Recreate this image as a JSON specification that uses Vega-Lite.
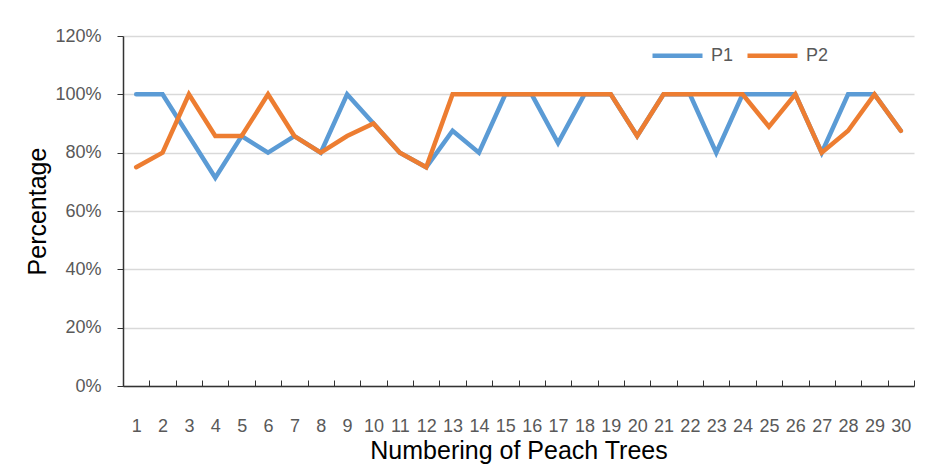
{
  "$schema": "https://vega.github.io/schema/vega-lite/v6.json",
  "autosize": "none",
  "width": 791,
  "height": 350,
  "padding": {"left": 123, "top": 36, "right": 13, "bottom": 79},
  "background": "white",
  "config": {
    "font": "Liberation Sans",
    "view": {"stroke": null}
  },
  "data": {
    "values": [
      {"tree": 1, "series": "P1", "value": 1.0},
      {"tree": 2, "series": "P1", "value": 1.0},
      {"tree": 3, "series": "P1", "value": 0.857},
      {"tree": 4, "series": "P1", "value": 0.714},
      {"tree": 5, "series": "P1", "value": 0.857},
      {"tree": 6, "series": "P1", "value": 0.8},
      {"tree": 7, "series": "P1", "value": 0.857},
      {"tree": 8, "series": "P1", "value": 0.8},
      {"tree": 9, "series": "P1", "value": 1.0},
      {"tree": 10, "series": "P1", "value": 0.9},
      {"tree": 11, "series": "P1", "value": 0.8},
      {"tree": 12, "series": "P1", "value": 0.75},
      {"tree": 13, "series": "P1", "value": 0.875},
      {"tree": 14, "series": "P1", "value": 0.8},
      {"tree": 15, "series": "P1", "value": 1.0},
      {"tree": 16, "series": "P1", "value": 1.0},
      {"tree": 17, "series": "P1", "value": 0.833},
      {"tree": 18, "series": "P1", "value": 1.0},
      {"tree": 19, "series": "P1", "value": 1.0},
      {"tree": 20, "series": "P1", "value": 0.857},
      {"tree": 21, "series": "P1", "value": 1.0},
      {"tree": 22, "series": "P1", "value": 1.0},
      {"tree": 23, "series": "P1", "value": 0.8},
      {"tree": 24, "series": "P1", "value": 1.0},
      {"tree": 25, "series": "P1", "value": 1.0},
      {"tree": 26, "series": "P1", "value": 1.0},
      {"tree": 27, "series": "P1", "value": 0.8},
      {"tree": 28, "series": "P1", "value": 1.0},
      {"tree": 29, "series": "P1", "value": 1.0},
      {"tree": 30, "series": "P1", "value": 0.875},
      {"tree": 1, "series": "P2", "value": 0.75},
      {"tree": 2, "series": "P2", "value": 0.8},
      {"tree": 3, "series": "P2", "value": 1.0},
      {"tree": 4, "series": "P2", "value": 0.857},
      {"tree": 5, "series": "P2", "value": 0.857},
      {"tree": 6, "series": "P2", "value": 1.0},
      {"tree": 7, "series": "P2", "value": 0.857},
      {"tree": 8, "series": "P2", "value": 0.8},
      {"tree": 9, "series": "P2", "value": 0.857},
      {"tree": 10, "series": "P2", "value": 0.9},
      {"tree": 11, "series": "P2", "value": 0.8},
      {"tree": 12, "series": "P2", "value": 0.75},
      {"tree": 13, "series": "P2", "value": 1.0},
      {"tree": 14, "series": "P2", "value": 1.0},
      {"tree": 15, "series": "P2", "value": 1.0},
      {"tree": 16, "series": "P2", "value": 1.0},
      {"tree": 17, "series": "P2", "value": 1.0},
      {"tree": 18, "series": "P2", "value": 1.0},
      {"tree": 19, "series": "P2", "value": 1.0},
      {"tree": 20, "series": "P2", "value": 0.857},
      {"tree": 21, "series": "P2", "value": 1.0},
      {"tree": 22, "series": "P2", "value": 1.0},
      {"tree": 23, "series": "P2", "value": 1.0},
      {"tree": 24, "series": "P2", "value": 1.0},
      {"tree": 25, "series": "P2", "value": 0.889},
      {"tree": 26, "series": "P2", "value": 1.0},
      {"tree": 27, "series": "P2", "value": 0.8},
      {"tree": 28, "series": "P2", "value": 0.875},
      {"tree": 29, "series": "P2", "value": 1.0},
      {"tree": 30, "series": "P2", "value": 0.875}
    ]
  },
  "mark": {"type": "line", "strokeWidth": 4.5, "strokeJoin": "miter", "strokeCap": "round"},
  "encoding": {
    "x": {
      "field": "tree",
      "type": "ordinal",
      "bandPosition": 0.5,
      "scale": {"type": "band", "paddingInner": 0, "paddingOuter": 0},
      "axis": {
        "title": "Numbering of Peach Trees",
        "titleFontSize": 25,
        "titleFontWeight": "normal",
        "titleColor": "black",
        "titlePadding": 3,
        "labelAngle": 0,
        "labelFontSize": 18,
        "labelColor": "#595959",
        "labelPadding": 37,
        "tickBand": "extent",
        "tickSize": -6,
        "tickColor": "#333333",
        "domainColor": "#333333",
        "domainWidth": 1.5,
        "grid": false
      }
    },
    "y": {
      "field": "value",
      "type": "quantitative",
      "scale": {"domain": [0, 1.2], "nice": false},
      "axis": {
        "title": "Percentage",
        "titleFontSize": 25,
        "titleFontWeight": "normal",
        "titleColor": "black",
        "titlePadding": 4,
        "format": ".0%",
        "values": [0, 0.2, 0.4, 0.6, 0.8, 1.0, 1.2],
        "labelFontSize": 18,
        "labelColor": "#595959",
        "labelPadding": 16,
        "tickSize": 6,
        "tickColor": "#333333",
        "domainColor": "#333333",
        "domainWidth": 1.5,
        "gridColor": "#d9d9d9",
        "gridWidth": 1.5
      }
    },
    "color": {
      "field": "series",
      "type": "nominal",
      "scale": {"domain": ["P1", "P2"], "range": ["#5B9BD5", "#ED7D31"]},
      "legend": {
        "title": null,
        "orient": "none",
        "legendX": 527,
        "legendY": -8,
        "direction": "horizontal",
        "symbolType": "stroke",
        "symbolStrokeWidth": 4.5,
        "symbolSize": 2500,
        "labelFontSize": 18,
        "labelColor": "#595959",
        "columnPadding": 4,
        "labelOffset": 6
      }
    }
  }
}
